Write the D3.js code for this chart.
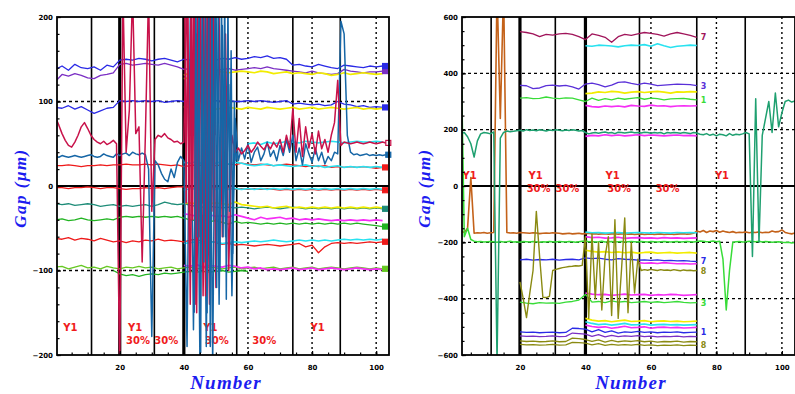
<!DOCTYPE html>
<html>
<head>
<meta charset="utf-8">
<script src="https://cdn.jsdelivr.net/npm/d3@7"></script>
<style>
  body { margin: 0; background: #fff; }
  svg { display: block; }
  .tick text { font-family: "DejaVu Sans", sans-serif; font-weight: bold; font-size: 7px; fill: #000; }
  .title { font-family: "Liberation Serif", serif; font-weight: bold; font-style: italic; fill: #1c1cf0; }
  .note { font-family: "DejaVu Sans", sans-serif; font-weight: bold; font-size: 10px; fill: #f01c1c; }
</style>
</head>
<body>
<svg id="chart" width="795" height="394"></svg>
<script>
// ---- tick labels / axes ----
var xTicks = [20, 40, 60, 80, 100];
var leftYTicks = [-200, -100, 0, 100, 200];
var rightYTicks = [-600, -400, -200, 0, 200, 400, 600];
var runBounds = [11.2, 30.8, 56.5, 74, 88.8];
var thickBounds = [20, 40];
var dottedX = [60, 80, 100];

// red run notes (x in Number units)
var noteY1 = [4.6, 24.8, 48.3, 81.7];
var note30 = [25.7, 34.5, 50.3, 65.1];

// ---- left panel series (values in um) ----
var leftBlueTop = [138,142,137,144,140,139,141,137,143,141,149,150,149,151,150,148,150,151,149,147,150,149,151,152,150,149,151,150,152,150,151,153,152,154,151,152,150,143,144,142,141,144,142,140,139,143,142,141,140,142,141,142];
var leftPurple = [124,132,130,133,131,128,127,131,132,134,144,145,143,144,145,144,143,145,143,141,138,139,137,138,136,137,138,139,137,138,139,140,139,141,139,138,137,136,135,134,136,134,133,132,133,138,136,135,134,135,135,136];
var leftYellowA = [131,134,135,133,134,136,135,134,135,136,135,134,136,135,133,134,135,133,134,133,132,134,133,131,132,134,132,133,134,133,132,133];
var leftYellowB = [127,128,126,129,128];
var leftBlueMid = [93,92,95,91,94,90,86,89,92,93,101,100,101,100,101,100,101,99,100,101,100,101,100,101,100,101,100,101,100,100,101,100,101,100,99,100,101,97,98,97,96,97,95,96,100,97,96,94,95,93,94,93];
var leftYellowC = [94,93,91,92,93,91,92,93,92,91,93,92,91,93,92,91,92,93,91,92,93,91,92,93,92,91,92,93,91,92,91,92];
var leftCrimson = [81,72,62,54,48,46,52,60,70,75,68,60,55,52,50,53,49,51,54,50,
  -215,230,40,90,230,62,70,-90,60,230,-30,55,60,58,62,57,55,52,53,50,
  52,240,-140,240,-150,230,-130,120,-140,240,-120,200,-60,180,-100,60,40,45,38,42,
  48,40,45,52,47,43,50,44,52,46,55,40,60,45,92,40,80,35,70,45,
  62,38,65,44,55,40,60,75,125,48,52,51,50,51,52,51,50,51,52,51,50,51,52,51];
var leftCrimsonBurst = [230,-20,240,-100,230,-40,240,-140,235,-60,240,-20,230,-130,240,-80,235,-30,240,60];
var leftSteel = [35,34,36,35,34,35,36,35,34,35,36,37,35,34,35,38,36,35,34,38,
  36,38,39,36,40,38,37,39,37,20,-178,30,25,15,8,5,20,10,28,35,
  30,-190,200,-170,180,-200,230,-190,210,-210,230,-140,190,-60,120,-130,80,30,45,32,
  50,28,40,46,30,38,52,35,42,30,48,36,55,40,60,30,45,25,50,38,
  28,45,30,40,26,35,30,40,38,195,180,60,40,37,38,36,37,38,36,37,36,37,36,37];
var leftSteelBurst = [-150,230,-60,240,-197,230,-90,240,-150,230,-190,240,-40,230,-120,240,-100,230,-60,240,-134,220,-30,160,-80,100,30,40];
var leftRedA = [24,24,25,24,23,24,24,25,24,25,25,26,25,25,26,25,26,25,24,25,23,24,25,24,25,24,25,26,25,27,26,25,26,25,24,25,26,25,24,23,24,23,24,22,23,22,23,22,23,22,21,22];
var leftCyanA = [28,27,29,26,28,27,29,26,28,27,25,24,25,26,24,25,24,23,24,25,23,24,22,23,24,22,23,22,23,22,23,22];
var leftCyanB = [50,51,49,52,50,51,53,52,51,53,52,51,52,53,52,51,52,53,52,52,53,52];
var leftRedB = [-2,-2,-3,-2,-2,-1,-2,-3,-2,-2,-3,-4,-3,-3,-2,-3,-2,-3,-2,-1,-1,-2,-3,-2,-1,-2,-3,-2,-4,-3,-4,-3,-4,-3,-4,-5,-4,-5,-4,-5,-4,-5,-4,-5,-4,-5,-4,-5,-4,-5,-4,-5];
var leftCyanC = [-5,-3,-4,-6,-3,-4,-2,-4,-3,-4,-3,-4,-3,-4,-3,-4,-3,-4,-3,-4,-3,-4,-3,-4,-3,-4,-3,-4,-3,-4,-3,-4];
var leftTeal = [-21,-22,-21,-23,-22,-21,-22,-24,-23,-22,-24,-23,-24,-23,-22,-24,-22,-19,-21,-22,-21,-23,-24,-25,-24,-25,-26,-25,-26,-25,-26,-27,-26,-25,-26,-27,-26,-25,-26,-27,-26,-27,-26,-27,-26,-27,-26,-27,-26,-27,-26,-27];
var leftYellowD = [-21,-20,-21,-19,-21,-20,-21,-22,-19,-22,-23,-24,-25,-24,-26,-25,-24,-26,-25,-26,-25,-26,-25,-26,-25,-26,-25,-26,-25,-26,-25,-26];
var leftGreen = [-40,-39,-41,-40,-38,-40,-41,-40,-39,-40,-37,-36,-37,-36,-37,-36,-37,-36,-37,-36,-38,-40,-41,-40,-42,-41,-43,-45,-42,-44,-43,-44,-45,-44,-45,-44,-45,-44,-45,-44,-45,-44,-45,-44,-45,-44,-45,-44,-45,-46,-47,-48];
var leftMagentaA = [-33,-34,-36,-35,-34,-36,-35,-37,-34,-36,-38,-40,-37,-39,-38,-37,-39,-38,-40,-39,-40,-39,-40,-41,-40,-41,-40,-41,-40,-41,-40,-41];
var leftRedC = [-62,-63,-61,-64,-62,-63,-65,-62,-64,-66,-65,-67,-65,-66,-64,-65,-63,-65,-64,-65,-66,-64,-63,-66,-65,-67,-69,-68,-70,-69,-70,-71,-70,-69,-70,-71,-70,-69,-68,-72,-70,-79,-72,-68,-67,-68,-67,-68,-67,-66,-67,-66];
var leftCyanD = [-68,-67,-66,-68,-67,-66,-68,-67,-66,-67,-66,-65,-66,-65,-64,-65,-66,-65,-64,-65,-64,-65,-64,-65,-64,-63,-64,-63,-64,-63,-64,-63];
var leftGreenLight = [-96,-95,-98,-96,-94,-97,-96,-98,-95,-97,-98,-96,-97,-95,-97,-96,-98,-97,-96,-98,-97,-96,-98,-97,-96,-97,-98,-97,-96,-98,-97,-96,-98,-97,-96,-98,-97,-96,-98,-97,-96,-98,-97,-96,-97,-98,-97,-96,-97,-98,-97,-98];
var leftGreenB = [-100,-104,-106,-105,-107,-105,-104,-105,-103,-104,-103,-102,-101,-102,-101,-102,-101,-100,-102,-101,-100,-101];
var leftMagentaB = [-94,-95,-93,-96,-94,-95,-96,-94,-95,-97,-96,-98,-97,-99,-98,-99,-98,-97,-99,-98,-97,-99,-98,-97,-98,-99,-98,-97,-98,-99,-98,-99];

// ---- right panel series ----
var rightMaroon = [548,545,540,530,538,536,540,542,538,530,520,540,535,528,510,530,538,535,540,545,542,538,532,540,545,540,535,528];
var rightCyanA = [498,496,500,499,497,494,498,500,499,502,496,505,498,492,496,498,500,499];
var rightBlueA = [357,356,346,348,356,358,355,357,352,344,362,365,360,352,358,368,370,364,360,365,362,356,358,360,362,361,360,356];
var rightYellowA = [328,330,334,332,336,334,330,333,335,332,334,336,333,330,334,333,335,334];
var rightGreenA = [312,314,310,311,316,312,310,313,312,306,300,312,304,310,306,312,308,311,314,308,312,310,306,309,310,311,308,306];
var rightMagentaA = [286,282,280,284,282,284,281,286,284,283,287,284,285,282,284,285,284,285];
var rightMagentaB = [176,180,178,182,179,181,178,180,182,179,181,180,178,180,181,179,180,178];
var rightTeal = [186,190,175,150,103,160,185,190,188,185,
  192,-620,170,190,195,193,194,196,198,195,
  200,197,199,196,200,198,195,199,197,200,
  198,196,199,197,200,198,195,197,190,185,
  188,190,187,190,192,188,190,186,191,190,
  188,190,192,189,190,188,191,190,187,190,
  188,190,185,190,188,190,189,187,190,188,
  186,190,188,184,182,186,180,184,178,184,
  182,178,186,180,184,182,185,190,185,-250,
  310,-200,180,240,300,190,330,210,260,300,
  305,298,302];
var rightGreenL = [505,-180,-150,-190,-196,-198,-197,-199,-198,-197,
  -198,-200,-197,-199,-198,-196,-199,-198,-200,-197,
  -198,-199,-197,-198,-200,-198,-199,-197,-198,-199,
  -197,-198,-199,-197,-198,-200,-198,-196,-195,-198,
  -197,-199,-198,-196,-199,-198,-197,-199,-198,-197,
  -199,-198,-197,-198,-199,-197,-198,-199,-197,-198,
  -199,-198,-197,-198,-199,-198,-197,-199,-198,-197,
  -198,-199,-197,-195,-196,-198,-197,-195,-198,-196,
  -260,-440,-300,-200,-198,-197,-199,-198,-196,-197,
  -198,-196,-199,-197,-198,-200,-199,-198,-200,-201,
  -200,-202,-201];
var rightBrown = [-160,-165,-150,30,-168,-166,-167,-165,-168,-166,
  -165,700,240,700,-165,-167,-166,-168,-165,-166,
  -167,-168,-166,-167,-169,-168,-167,-168,-166,-167,
  -168,-170,-169,-168,-170,-169,-168,-170,-169,-168,
  -170,-169,-171,-170,-169,-171,-170,-169,-171,-170,
  -169,-171,-170,-172,-171,-170,-172,-171,-170,-172,
  -171,-170,-172,-171,-170,-172,-171,-170,-169,-171,
  -170,-168,-160,-163,-158,-165,-160,-162,-158,-164,
  -160,-163,-165,-162,-166,-164,-165,-163,-166,-164,
  -165,-163,-166,-164,-165,-160,-163,-162,-156,-165,
  -168,-170,-167];
var rightCyanB = [-164,-166,-165,-167,-166,-165,-167,-166,-165,-166,-167,-165,-166,-167,-165,-166,-165,-166];
var rightMagentaC = [-180,-183,-182,-185,-184,-182,-186,-184,-183,-185,-184,-186,-183,-185,-184,-186,-185,-184];
var rightYellowB = [-228,-232,-235,-233,-236,-234,-237,-235,-238,-236,-235,-238,-237,-236,-238,-237,-236,-238];
var rightBlueB = [-262,-260,-263,-261,-262,-260,-263,-261,-260,-262,-255,-258,-256,-260,-262,-258,-260,-261,-263,-262,-264,-262,-265,-264,-266,-265,-267,-268];
var rightMagentaD = [-272,-274,-273,-275,-272,-274,-276,-275,-277,-276];
var rightOlive = [-340,-400,-467,-380,-300,-90,-250,-395,-396,-392,
  -300,-296,-293,-290,-288,-286,-285,-283,-284,-282,
  -180,-470,-170,-400,-200,-440,-250,-180,-460,-120,
  -470,-300,-113,-450,-200,-380,-260,-300,-297,-299,
  -296,-298,-300,-297,-299,-298,-300,-297,-299,-301,
  -298,-300,-299,-301,-300];
var rightMagentaE = [-380,-384,-386,-385,-388,-386,-384,-387,-386,-385,-388,-386,-387,-385,-386,-388,-387,-386];
var rightGreenB = [-412,-416,-418,-414,-416,-415,-417,-412,-410,-405,-385,-412,-410,-414,-408,-412,-410,-414,-412,-410,-413,-411,-414,-412,-410,-413,-415,-414];
var rightYellowC = [-470,-476,-480,-478,-482,-479,-476,-481,-480,-478,-482,-480,-479,-481,-480,-482,-481,-480];
var rightCyanC = [-482,-488,-492,-490,-494,-491,-488,-493,-492,-490,-494,-492,-491,-493,-492,-494,-493,-492];
var rightMagentaF = [-494,-499,-502,-500,-505,-502,-498,-503,-502,-500,-505,-502,-501,-503,-502,-504,-503,-502];
var rightBlueC = [-518,-520,-519,-521,-520,-519,-521,-520,-505,-506,-508,-518,-510,-520,-514,-522,-518,-520,-516,-520,-518,-521,-519,-520,-518,-521,-520,-519];
var rightPurple = [-532,-534,-533,-535,-534,-532,-535,-534,-522,-524,-526,-534,-528,-536,-530,-535,-532,-534,-531,-535,-533,-536,-534,-535,-533,-536,-534,-535];
var rightOliveB = [-550,-552,-551,-553,-552,-550,-553,-552,-540,-542,-545,-552,-546,-554,-548,-553,-550,-552,-549,-553,-551,-554,-552,-553,-551,-554,-552,-553];
var rightOliveC = [-562,-564,-563,-565,-564,-562,-565,-564,-555,-556,-558,-564,-560,-566,-562,-565,-563,-565,-562,-566,-564,-567,-565,-566,-564,-567,-565,-566];

// colours
var BLUE = "#2a2ae6", PURPLE = "#7b2fc4", YELLOW = "#f2ec00", CRIMSON = "#c8124a",
    STEEL = "#1666a6", RED = "#ee1a1a", CYAN = "#28e2f0", TEAL = "#1e8c78",
    GREEN = "#22b422", LGREEN = "#66c822", MAGENTA = "#f52ef5", OLIVE = "#8a8a12",
    BROWN = "#c4621a", RTEAL = "#1fa070", RLGREEN = "#38dc38", MAROON = "#a0145a";

var leftSeries = [
  {v: leftGreenLight, x0: 0, dx: 2, c: LGREEN, mark: "rect"},
  {v: leftGreenB, x0: 18, dx: 2, c: GREEN},
  {v: leftMagentaB, x0: 40, dx: 2, c: MAGENTA, w: 1.7},
  {v: leftRedC, x0: 0, dx: 2, c: RED, mark: "rect"},
  {v: leftCyanD, x0: 40, dx: 2, c: CYAN, w: 1.6},
  {v: leftGreen, x0: 0, dx: 2, c: GREEN, mark: "rect"},
  {v: leftMagentaA, x0: 40, dx: 2, c: MAGENTA, w: 1.7},
  {v: leftTeal, x0: 0, dx: 2, c: TEAL, mark: "rect"},
  {v: leftYellowD, x0: 40, dx: 2, c: YELLOW, w: 1.7},
  {v: leftRedB, x0: 0, dx: 2, c: RED, mark: "rect"},
  {v: leftCyanC, x0: 40, dx: 2, c: CYAN, w: 1.6},
  {v: leftRedA, x0: 0, dx: 2, c: RED, mark: "rect"},
  {v: leftCyanA, x0: 40, dx: 2, c: CYAN, w: 1.6},
  {v: leftCyanB, x0: 60, dx: 2, c: CYAN, w: 1.6},
  {v: leftPurple, x0: 0, dx: 2, c: PURPLE, mark: "rect"},
  {v: leftBlueTop, x0: 0, dx: 2, c: BLUE, mark: "rect"},
  {v: leftYellowA, x0: 40, dx: 2, c: YELLOW, w: 1.7},
  {v: leftYellowB, x0: 40, dx: 2, c: YELLOW, w: 1.7},
  {v: leftBlueMid, x0: 0, dx: 2, c: BLUE, mark: "rect"},
  {v: leftYellowC, x0: 40, dx: 2, c: YELLOW, w: 1.7},
  {v: leftSteel, x0: 0, dx: 1, c: STEEL, w: 1.5, mark: "rect"},
  {v: leftCrimson, x0: 0, dx: 1, c: CRIMSON, w: 1.5, mark: "open"},
  {v: leftCrimsonBurst, x0: 40.25, dx: 0.5, c: CRIMSON, w: 1.5},
  {v: leftSteelBurst, x0: 43.25, dx: 0.5, c: STEEL, w: 1.5}
];

var rightSeries = [
  {v: rightBrown, x0: 2, dx: 1, c: BROWN, w: 1.6},
  {v: rightGreenL, x0: 2, dx: 1, c: RLGREEN, w: 1.5},
  {v: rightCyanB, x0: 40, dx: 2, c: CYAN, w: 1.7},
  {v: rightMagentaC, x0: 40, dx: 2, c: MAGENTA, w: 1.7},
  {v: rightYellowB, x0: 40, dx: 2, c: YELLOW, w: 1.7},
  {v: rightBlueB, x0: 20, dx: 2, c: BLUE, tag: "7"},
  {v: rightMagentaD, x0: 56, dx: 2, c: MAGENTA, w: 1.6},
  {v: rightMagentaE, x0: 40, dx: 2, c: MAGENTA, w: 1.7},
  {v: rightGreenB, x0: 20, dx: 2, c: RLGREEN, tag: "3"},
  {v: rightYellowC, x0: 40, dx: 2, c: YELLOW, w: 1.7},
  {v: rightCyanC, x0: 40, dx: 2, c: CYAN, w: 1.7},
  {v: rightMagentaF, x0: 40, dx: 2, c: MAGENTA, w: 1.6},
  {v: rightBlueC, x0: 20, dx: 2, c: BLUE, tag: "1"},
  {v: rightPurple, x0: 20, dx: 2, c: PURPLE},
  {v: rightOliveB, x0: 20, dx: 2, c: OLIVE},
  {v: rightOliveC, x0: 20, dx: 2, c: OLIVE, tag: "8"},
  {v: rightOlive, x0: 20, dx: 1, c: OLIVE, w: 1.4, tag: "8"},
  {v: rightMaroon, x0: 20, dx: 2, c: MAROON, tag: "7"},
  {v: rightCyanA, x0: 40, dx: 2, c: CYAN, w: 1.6},
  {v: rightBlueA, x0: 20, dx: 2, c: "#5a30d8", tag: "3"},
  {v: rightYellowA, x0: 40, dx: 2, c: YELLOW, w: 1.7},
  {v: rightGreenA, x0: 20, dx: 2, c: RLGREEN, tag: "1"},
  {v: rightMagentaA, x0: 40, dx: 2, c: MAGENTA, w: 1.7},
  {v: rightMagentaB, x0: 40, dx: 2, c: MAGENTA, w: 1.7},
  {v: rightTeal, x0: 2, dx: 1, c: RTEAL, w: 1.5}
];

var svg = d3.select("#chart");
svg.append("rect").attr("width", 795).attr("height", 394).attr("fill", "#fff");

function drawPanel(p, id) {
  var x = d3.scaleLinear().domain(p.xDomain).range([p.left, p.right]);
  var y = d3.scaleLinear().domain(p.yDomain).range([p.bottom, p.top]);
  var g = svg.append("g");

  g.append("clipPath").attr("id", id)
    .append("rect").attr("x", p.left).attr("y", p.top)
    .attr("width", p.right - p.left).attr("height", p.bottom - p.top);

  // grid
  var grid = g.append("g").attr("clip-path", "url(#" + id + ")");
  p.yTicks.slice(1, -1).forEach(function (t) {
    grid.append("line").attr("x1", p.left).attr("x2", p.right)
      .attr("y1", y(t)).attr("y2", y(t)).attr("stroke", "#000")
      .attr("stroke-width", t === 0 ? 1.8 : 1.3)
      .attr("stroke-dasharray", t === 0 ? null : "3,3");
  });
  dottedX.forEach(function (t) {
    grid.append("line").attr("x1", x(t)).attr("x2", x(t))
      .attr("y1", p.top).attr("y2", p.bottom)
      .attr("stroke", "#000").attr("stroke-width", 1.4).attr("stroke-dasharray", "2,3");
  });
  runBounds.forEach(function (t) {
    grid.append("line").attr("x1", x(t)).attr("x2", x(t))
      .attr("y1", p.top).attr("y2", p.bottom)
      .attr("stroke", "#000").attr("stroke-width", 1.6);
  });
  thickBounds.forEach(function (t) {
    grid.append("line").attr("x1", x(t)).attr("x2", x(t))
      .attr("y1", p.top).attr("y2", p.bottom)
      .attr("stroke", "#000").attr("stroke-width", 3.2);
  });

  // notes
  noteY1.forEach(function (t) {
    g.append("text").attr("class", "note").attr("x", x(t)).attr("y", p.noteRow1)
      .attr("text-anchor", "middle").text("Y1");
  });
  note30.forEach(function (t) {
    g.append("text").attr("class", "note").attr("x", x(t)).attr("y", p.noteRow2)
      .attr("text-anchor", "middle").text("30%");
  });

  // data
  var plot = g.append("g").attr("clip-path", "url(#" + id + ")");
  p.series.forEach(function (s) {
    var line = d3.line()
      .x(function (d, i) { return x(s.x0 + i * s.dx); })
      .y(function (d) { return y(d); });
    plot.append("path").datum(s.v).attr("d", line)
      .attr("fill", "none").attr("stroke", s.c)
      .attr("stroke-width", s.w || 1.3).attr("stroke-linejoin", "round");
  });

  // end markers
  p.series.forEach(function (s) {
    var lx = x(s.x0 + (s.v.length - 1) * s.dx), ly = y(s.v[s.v.length - 1]);
    if (s.mark) {
      g.append("rect").attr("x", lx).attr("y", ly - 2.5).attr("width", 5).attr("height", 5)
        .attr("fill", s.mark === "open" ? "#fff" : s.c)
        .attr("stroke", s.c).attr("stroke-width", 1.2);
    }
    if (s.tag) {
      g.append("text").attr("x", lx + 4).attr("y", ly + 3)
        .attr("font-family", "DejaVu Sans").attr("font-weight", "bold")
        .attr("font-size", 8).attr("fill", s.c).text(s.tag);
    }
  });

  // axes (ticks point inward)
  g.append("g").attr("transform", "translate(" + p.left + ",0)")
    .call(d3.axisLeft(y).tickValues(p.yTicks).tickSize(-4).tickPadding(4))
    .call(function (a) { a.select(".domain").remove(); });
  g.append("g").attr("transform", "translate(" + p.left + ",0)")
    .call(d3.axisLeft(y).ticks(p.yMinor).tickSize(-2.5).tickFormat(""))
    .call(function (a) { a.select(".domain").remove(); });
  g.append("g").attr("transform", "translate(0," + p.bottom + ")")
    .call(d3.axisBottom(x).tickValues(xTicks).tickSize(-4).tickPadding(10))
    .call(function (a) { a.select(".domain").remove(); });
  g.append("g").attr("transform", "translate(0," + p.bottom + ")")
    .call(d3.axisBottom(x).tickValues(d3.range(5, 104, 5)).tickSize(-2.5).tickFormat(""))
    .call(function (a) { a.select(".domain").remove(); });
  g.selectAll(".tick line").attr("stroke", "#000").attr("stroke-width", 1.2);

  // frame
  g.append("rect").attr("x", p.left).attr("y", p.top)
    .attr("width", p.right - p.left).attr("height", p.bottom - p.top)
    .attr("fill", "none").attr("stroke", "#000").attr("stroke-width", 1.8);

  // titles
  g.append("text").attr("class", "title").attr("x", p.xTitle).attr("y", 389)
    .attr("text-anchor", "middle").attr("font-size", 19).attr("letter-spacing", 1.2)
    .text("Number");
  g.append("text").attr("class", "title")
    .attr("transform", "translate(" + p.yTitle + ",188) rotate(-90)")
    .attr("text-anchor", "middle").attr("font-size", 17).attr("letter-spacing", 1.5)
    .text("Gap (\u03bcm)");
}

drawPanel({
  left: 57, right: 389, top: 17, bottom: 355,
  xDomain: [0.43, 104], yDomain: [-200, 200],
  yTicks: leftYTicks, yMinor: 20, series: leftSeries,
  noteRow1: 331, noteRow2: 344, xTitle: 226, yTitle: 26
}, "clipL");

drawPanel({
  left: 462, right: 795, top: 17, bottom: 355,
  xDomain: [2.3, 104], yDomain: [-600, 600],
  yTicks: rightYTicks, yMinor: 24, series: rightSeries,
  noteRow1: 179, noteRow2: 192, xTitle: 631, yTitle: 430
}, "clipR");
</script>
</body>
</html>
